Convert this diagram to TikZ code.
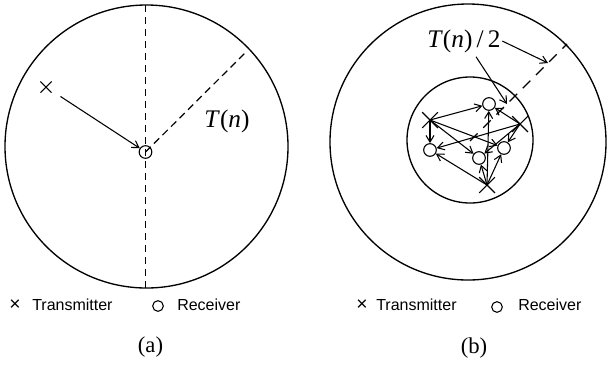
\documentclass[tikz,border=0pt]{standalone}
\usepackage{fontspec}
\setmainfont{Liberation Serif}
\setsansfont{Liberation Sans}
\usetikzlibrary{arrows.meta,shapes.misc}

\begin{document}
\begin{tikzpicture}[
  x=0.75pt, y=-0.75pt,
  every node/.style={inner sep=0pt},
  rx/.style={draw, circle, minimum size=9.5pt, line width=0.8pt},
  tx/.style={draw, cross out, minimum size=11pt, line width=0.8pt},
  link/.style={-{Straight Barb[length=5pt,width=6pt]}, line width=0.8pt},
  radiusline/.style={dash pattern=on 5.5pt off 3.5pt, line width=0.9pt},
  lbl/.style={font=\fontsize{19}{22}\selectfont},
  sublbl/.style={font=\fontsize{17}{20}\selectfont},
  legend/.style={font=\sffamily\fontsize{12}{14}\selectfont, anchor=west},
  mark x/.style={font=\sffamily\fontsize{14.5}{16}\selectfont}
]
  \useasboundingbox (0,0) rectangle (609,369);

  % (a) single pair
  \draw[line width=1pt] (146.5,146.5) circle[radius=141.5];
  \node[rx] (ra) at (145.5,152) {};
  \node[tx, minimum size=7.5pt] (ta) at (46,87) {};
  \coordinate (topa) at (145.5,5);
  \coordinate (bota) at (145.5,288);
  \coordinate (ea) at (245,53);
  \draw[radiusline] (topa) -- (bota);
  \draw[radiusline] (ra.center) -- (ea);
  \draw[link, shorten <=8pt] (ta) -- (ra);
  \node[lbl] (tna) at (227,121) {\textit{T}(\textit{n})};

  % (b) cluster in the middle
  \draw[line width=1pt] (468,142) circle[radius=138];
  \draw[line width=1pt] (470,140) circle[radius=63];
  \node[rx] (r1) at (489,104) {};
  \node[rx] (r2) at (430,150) {};
  \node[rx] (r3) at (479,158) {};
  \node[rx] (r4) at (504,148) {};
  \node[tx] (t1) at (430,120) {};
  \node[tx] (t2) at (520,124) {};
  \node[tx] (t3) at (487,185) {};
  \foreach \t in {t1,t2,t3}
    \foreach \r in {r1,r2,r3,r4}
      \draw[link] (\t.center) -- (\r);

  \coordinate (cb) at (470,141);
  \coordinate (eb) at (567,44);
  \draw[dash pattern=on 8pt off 6pt, line width=0.9pt] (cb) -- (eb);
  \node[lbl] (tnb) at (464,41) {\textit{T}(\textit{n})\,/\,2};
  \coordinate (pa) at (548,63);
  \coordinate (pb) at (507,104);
  \draw[link] ([xshift=1pt]tnb.east) -- (pa);
  \draw[link] ([xshift=9pt,yshift=-3pt]tnb.south) -- (pb);

  % legends
  \node[mark x] (lxa) at (15,305) {×};
  \node[legend] (ltxa) at (32,305) {Transmitter};
  \node[rx, minimum size=8pt] (lrxa) at (158,306) {};
  \node[legend] (lrxta) at (177,305) {Receiver};

  \node[mark x] (lxb) at (362,305) {×};
  \node[legend] (ltxb) at (376,305) {Transmitter};
  \node[rx, minimum size=8pt] (lrxb) at (497,307) {};
  \node[legend] (lrxtb) at (518,305) {Receiver};

  \node[sublbl] (capa) at (150.5,347) {(a)};
  \node[sublbl] (capb) at (474,348) {(b)};
\end{tikzpicture}
\end{document}
